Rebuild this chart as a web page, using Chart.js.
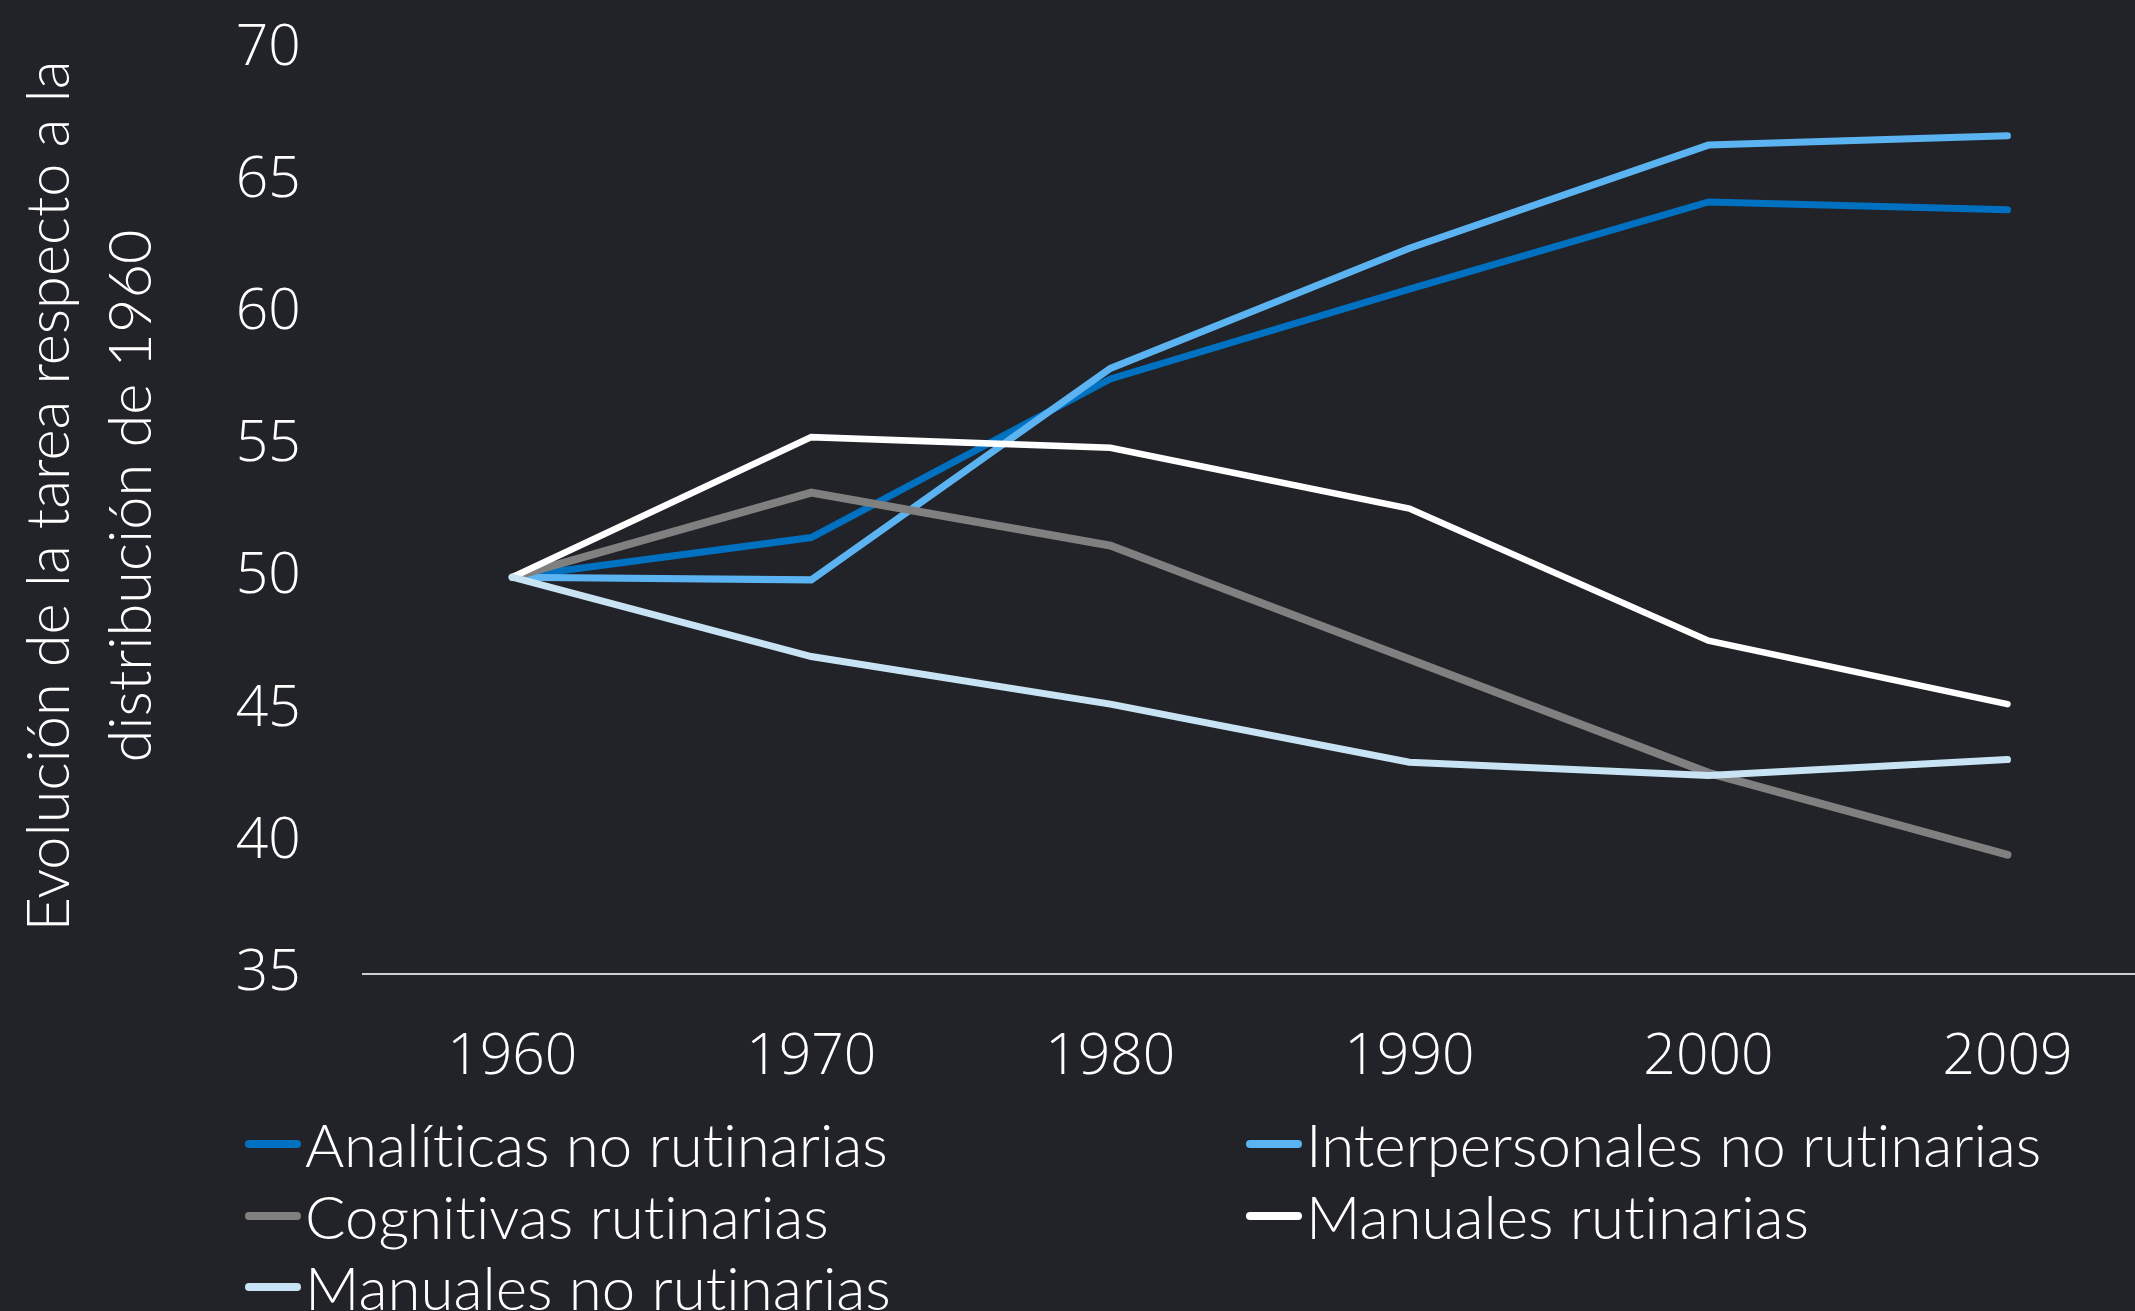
<!DOCTYPE html>
<html>
<head>
<meta charset="utf-8">
<script src="https://cdn.jsdelivr.net/npm/chart.js@4.4.1/dist/chart.umd.min.js"></script>
<style>
  html, body { margin: 0; padding: 0; background: #222328; overflow: hidden; width: 2135px; height: 1311px; }
  #wrap { position: absolute; left: 0; top: 0; width: 2157px; height: 1311px; }
  #legend { position: absolute; left: 0; top: 0; width: 2135px; height: 1311px; pointer-events: none;
            font-family: 'Lato', sans-serif; font-weight: 300; font-size: 60px; color: #ffffff;
            font-variant-ligatures: none; }
  .item { position: absolute; height: 72px; line-height: 72px; display: flex; align-items: center; white-space: nowrap; }
  .swatch { width: 56px; height: 8px; border-radius: 4px; margin-right: 4px; flex: none; }
</style>
</head>
<body>
<div id="wrap"><canvas id="c"></canvas></div>
<div id="legend"></div>
<script>
// ---- data ----
const years = ['1960', '1970', '1980', '1990', '2000', '2009'];
const analiticasNoRutinarias      = [50, 51.5, 57.5, 60.9, 64.2, 63.9];
const interpersonalesNoRutinarias = [50, 49.9, 57.9, 62.45, 66.35, 66.7];
const cognitivasRutinarias        = [50, 53.2, 51.2, 46.9, 42.6, 39.5];
const manualesRutinarias          = [50, 55.3, 54.9, 52.6, 47.6, 45.2];
const manualesNoRutinarias        = [50, 47.0, 45.2, 43.0, 42.5, 43.1];
const seriesNames = ['Analíticas no rutinarias', 'Interpersonales no rutinarias', 'Cognitivas rutinarias',
                     'Manuales rutinarias', 'Manuales no rutinarias'];
const yMin = 35, yMax = 70, yStep = 5;
const yTitle = ['Evolución de la tarea respecto a la', 'distribución de 1960'];

// ---- styles ----
const seriesColors = ['#0070C0', '#5BB4F1', '#808080', '#FFFFFF', '#C8E4F4'];
const seriesWidths = [7, 7, 8, 6.5, 7];
const seriesValues = [analiticasNoRutinarias, interpersonalesNoRutinarias, cognitivasRutinarias,
                      manualesRutinarias, manualesNoRutinarias];

const tickFont = { family: 'Open Sans', weight: '300', size: 57, lineHeight: 1.2 };

// y-axis title, drawn rotated at the left of the plot
const yTitlePlugin = {
  id: 'yTitle',
  afterDraw(chart) {
    const ctx = chart.ctx;
    ctx.save();
    ctx.fillStyle = '#FFFFFF';
    ctx.font = "300 59.5px Lato";
    ctx.textAlign = 'center';
    ctx.textBaseline = 'middle';
    const cy = 496;
    const xs = [50, 132];
    yTitle.forEach((line, i) => {
      ctx.save();
      ctx.translate(xs[i], cy);
      ctx.rotate(-Math.PI / 2);
      ctx.fillText(line, 0, 0);
      ctx.restore();
    });
    ctx.restore();
  }
};

new Chart(document.getElementById('c'), {
  type: 'line',
  data: {
    labels: years,
    datasets: seriesValues.map((vals, i) => ({
      label: seriesNames[i],
      data: vals,
      borderColor: seriesColors[i],
      backgroundColor: seriesColors[i],
      borderWidth: seriesWidths[i],
      pointRadius: 0,
      pointHoverRadius: 0,
      tension: 0,
      fill: false,
      borderCapStyle: 'round',
      borderJoinStyle: 'miter',
      order: seriesValues.length - 1 - i
    }))
  },
  plugins: [yTitlePlugin],
  options: {
    responsive: true,
    maintainAspectRatio: false,
    animation: false,
    events: [],
    layout: { padding: { top: 48.6, right: 0, bottom: 168.9, left: 0 } },
    plugins: { legend: { display: false }, tooltip: { enabled: false }, title: { display: false } },
    scales: {
      x: {
        type: 'category',
        offset: true,
        grid: { display: false, drawTicks: false },
        border: { display: true, color: '#CFCFCF', width: 2 },
        ticks: { color: '#FFFFFF', font: tickFont, padding: 50, maxRotation: 0, autoSkip: false }
      },
      y: {
        min: yMin,
        max: yMax,
        grid: { display: false, drawTicks: false },
        border: { display: false },
        ticks: { stepSize: yStep, color: '#FFFFFF', font: tickFont, padding: 62 },
        afterFit(scale) { scale.width = 362.7; scale.paddingTop = 0; scale.paddingBottom = 0; }
      }
    }
  }
});

// ---- legend (grid of two columns, built from the series arrays) ----
const legendCols = [245, 1246];
const legendRows = [1143.7, 1215.9, 1286.7];
const legend = document.getElementById('legend');
seriesNames.forEach((name, i) => {
  const el = document.createElement('div');
  el.className = 'item';
  el.style.left = legendCols[i % 2] + 'px';
  el.style.top = (legendRows[Math.floor(i / 2)] - 36) + 'px';
  const sw = document.createElement('span');
  sw.className = 'swatch';
  sw.style.background = seriesColors[i];
  const tx = document.createElement('span');
  tx.textContent = name;
  el.appendChild(sw);
  el.appendChild(tx);
  legend.appendChild(el);
});
</script>
</body>
</html>
